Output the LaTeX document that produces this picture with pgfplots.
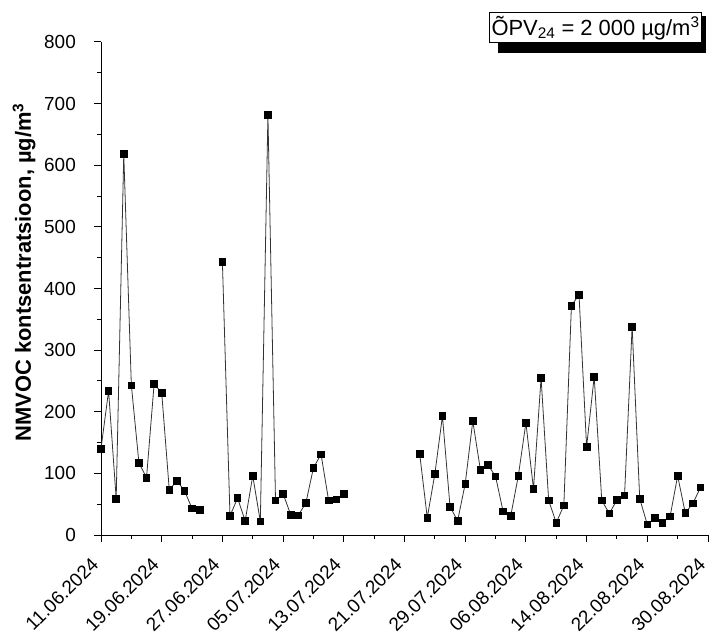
\documentclass[border=0pt]{standalone}
\usepackage{pgfplots}
\pgfplotsset{compat=1.18}
\usepackage{fontspec}
\setmainfont{Liberation Sans}

\begin{document}
\begin{tikzpicture}
\begin{axis}[
    name=ax,
    scale only axis,
    width=607bp, height=493bp,
    xmin=0, xmax=80,
    ymin=0, ymax=800,
    axis x line=bottom, axis y line=left,
    axis line style={-, line width=1pt},
    tick align=outside,
    major tick length=7bp, minor tick length=4bp,
    tick style={line width=1pt, black},
    xtick={0,8,...,80},
    xticklabels={11.06.2024,19.06.2024,27.06.2024,05.07.2024,13.07.2024,21.07.2024,29.07.2024,06.08.2024,14.08.2024,22.08.2024,30.08.2024},
    minor x tick num=1,
    ytick={0,100,...,800},
    minor y tick num=1,
    /pgf/number format/assume math mode=true,
    tick label style={font=\fontsize{19}{22}\selectfont},
    xticklabel style={xshift=-6bp, yshift=-19bp, rotate=45, anchor=east, inner sep=0pt},
    yticklabel style={inner sep=0pt, xshift=-18bp},
    ylabel={\textbf{NMVOC kontsentratsioon, µg/m\textsuperscript{3}}},
    every axis y label/.style={at={([xshift=-77bp]rel axis cs:0,0.533)}, rotate=90, anchor=center,
        font=\fontsize{22}{26}\selectfont},
    unbounded coords=jump,
    clip=false,
]
\addplot[color=black!80, line width=0.8pt, mark=square*, mark size=3.3bp,
    mark options={solid, fill=black, draw=black}]
    table[x=day, y=val] {
    day val
    0 140
    1 234
    2 59
    3 618
    4 243
    5 117
    6 93
    7 245
    8 231
    9 73
    10 88
    11 72
    12 43
    13 41
    14 nan
    16 443
    17 31
    18 60
    19 23
    20 96
    21 22
    22 682
    23 56
    24 67
    25 33
    26 32
    27 52
    28 109
    29 131
    30 56
    31 58
    32 67
    37 nan
    42 132
    43 28
    44 99
    45 193
    46 46
    47 23
    48 83
    49 185
    50 106
    51 114
    52 95
    53 38
    54 31
    55 96
    56 182
    57 75
    58 255
    59 56
    60 20
    61 48
    62 372
    63 390
    64 143
    65 257
    66 56
    67 35
    68 57
    69 64
    70 338
    71 59
    72 17
    73 28
    74 20
    75 30
    76 96
    77 36
    78 51
    79 77
    };
\node[anchor=south east, inner xsep=2bp, inner ysep=3bp, font=\fontsize{22}{26}\selectfont] (L)
    at (rel axis cs:0.99,0.998) {ÕPV\textsubscript{24} = 2 000 µg/m\textsuperscript{3}};
\fill[black] ([xshift=8bp,yshift=-10bp]L.south west) rectangle ([xshift=4bp,yshift=-3bp]L.north east);
\node[anchor=south east, inner xsep=2bp, inner ysep=3bp, font=\fontsize{22}{26}\selectfont,
    draw=black, line width=0.8pt, fill=white]
    at (rel axis cs:0.99,0.998) {ÕPV\textsubscript{24} = 2 000 µg/m\textsuperscript{3}};
\end{axis}
\pgfresetboundingbox
\path ([xshift=-101bp,yshift=-102bp]ax.south west) rectangle ([xshift=5bp,yshift=42bp]ax.north east);
\end{tikzpicture}
\end{document}
